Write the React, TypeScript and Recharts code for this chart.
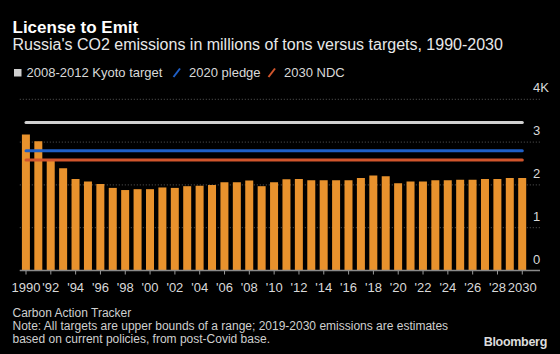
import React from "react"
import { BarChart, Bar, XAxis, YAxis, CartesianGrid, ReferenceLine } from "recharts"

const years = [
  1990, 1991, 1992, 1993, 1994, 1995, 1996, 1997, 1998, 1999, 2000, 2001, 2002, 2003,
  2004, 2005, 2006, 2007, 2008, 2009, 2010, 2011, 2012, 2013, 2014, 2015, 2016, 2017,
  2018, 2019, 2020, 2021, 2022, 2023, 2024, 2025, 2026, 2027, 2028, 2029, 2030,
]

// millions of tons
const emissions = [
  3180, 3020, 2570, 2390, 2140, 2080, 2020, 1930, 1880, 1900, 1900, 1940, 1930, 1970,
  1980, 2000, 2060, 2060, 2100, 1970, 2060, 2130, 2140, 2110, 2110, 2110, 2110, 2160,
  2220, 2200, 2040, 2080, 2080, 2110, 2110, 2120, 2120, 2140, 2140, 2160, 2160,
]

const kyotoTarget = 3460
const pledge2020 = 2800
const ndc2030 = 2580

const yTicks = [0, 1000, 2000, 3000, 4000]

const data = years.map((year, i) => ({ year, value: emissions[i] }))

const FONT = "'Liberation Sans', Arial, sans-serif"

const formatYear = (y: number) => (y === 1990 || y === 2030 ? String(y) : "'" + String(y).slice(2))

function XTick(props: any) {
  const { x, y, payload } = props
  return (
    <text x={x} y={y} dy={17} textAnchor="middle" fill="#d9d9d9" fontSize={13} fontFamily={FONT}>
      {formatYear(payload.value)}
    </text>
  )
}

function YTick(props: any) {
  const { x, y, payload } = props
  const v = payload.value
  return (
    <text x={x - 7} y={y - 7} textAnchor="start" fill="#d9d9d9" fontSize={13} fontFamily={FONT}>
      {v === 4000 ? "4K" : String(v / 1000)}
    </text>
  )
}

export default function App() {
  return (
    <div style={{ position: "absolute", left: 0, top: 0, width: 560, height: 354, background: "#000", overflow: "hidden" }}>
      <svg width={560} height={354} style={{ position: "absolute", left: 0, top: 0 }} fontFamily={FONT}>
        <text x={12.5} y={32.5} fill="#fff" fontSize={17} fontWeight="bold">License to Emit</text>
        <text x={12.5} y={50} fill="#e8e8e8" fontSize={16}>
          Russia's CO2 emissions in millions of tons versus targets, 1990-2030
        </text>

        <rect x={14} y={69} width={7.5} height={7.5} fill="#d0d0d0" />
        <text x={26.5} y={77} fill="#d9d9d9" fontSize={13}>2008-2012 Kyoto target</text>
        <line x1={173.5} y1={77} x2={180} y2={68.5} stroke="#1f5fc6" strokeWidth={2} />
        <text x={189} y={77} fill="#d9d9d9" fontSize={13}>2020 pledge</text>
        <line x1={268.5} y1={77} x2={275} y2={68.5} stroke="#d0552c" strokeWidth={2} />
        <text x={284} y={77} fill="#d9d9d9" fontSize={13}>2030 NDC</text>

        <text x={12.5} y={317} fill="#cfcfcf" fontSize={12}>Carbon Action Tracker</text>
        <text x={12.5} y={330} fill="#cfcfcf" fontSize={12}>
          Note: All targets are upper bounds of a range; 2019-2030 emissions are estimates
        </text>
        <text x={12.5} y={342.5} fill="#cfcfcf" fontSize={12}>
          based on current policies, from post-Covid base.
        </text>
        <text x={547} y={346} textAnchor="end" fill="#dcdcdc" fontSize={12.5} fontWeight="bold" letterSpacing={-0.3}>
          Bloomberg
        </text>
      </svg>

      <div style={{ position: "absolute", left: 0, top: 0 }}>
        <BarChart
          width={560}
          height={354}
          data={data}
          margin={{ top: 99.3, right: 0, bottom: 53.5, left: 19.8 }}
          barCategoryGap="17%"
        >
          <CartesianGrid vertical={false} stroke="#5a5a5a" strokeDasharray="1 2" />
          <XAxis
            dataKey="year"
            height={30}
            interval={1}
            padding={{ left: 0, right: 11.5 }}
            axisLine={{ stroke: "#8a8a8a", strokeWidth: 1.5 }}
            tickLine={{ stroke: "#9a9a9a" }}
            tickSize={4}
            tickMargin={0}
            tick={<XTick />}
          />
          <YAxis
            orientation="right"
            width={20}
            domain={[0, 4000]}
            ticks={yTicks}
            axisLine={false}
            tickLine={false}
            tickSize={0}
            tickMargin={0}
            tick={<YTick />}
          />
          <Bar dataKey="value" fill="#e8922d" isAnimationActive={false} />
          <ReferenceLine
            segment={[{ x: 1990, y: kyotoTarget }, { x: 2030, y: kyotoTarget }]}
            stroke="#d0d0d0"
            strokeWidth={3}
            strokeLinecap="round"
          />
          <ReferenceLine
            segment={[{ x: 1990, y: pledge2020 }, { x: 2030, y: pledge2020 }]}
            stroke="#1f5fc6"
            strokeWidth={3}
            strokeLinecap="round"
          />
          <ReferenceLine
            segment={[{ x: 1990, y: ndc2030 }, { x: 2030, y: ndc2030 }]}
            stroke="#d0552c"
            strokeWidth={3}
            strokeLinecap="round"
          />
        </BarChart>
      </div>
    </div>
  )
}
